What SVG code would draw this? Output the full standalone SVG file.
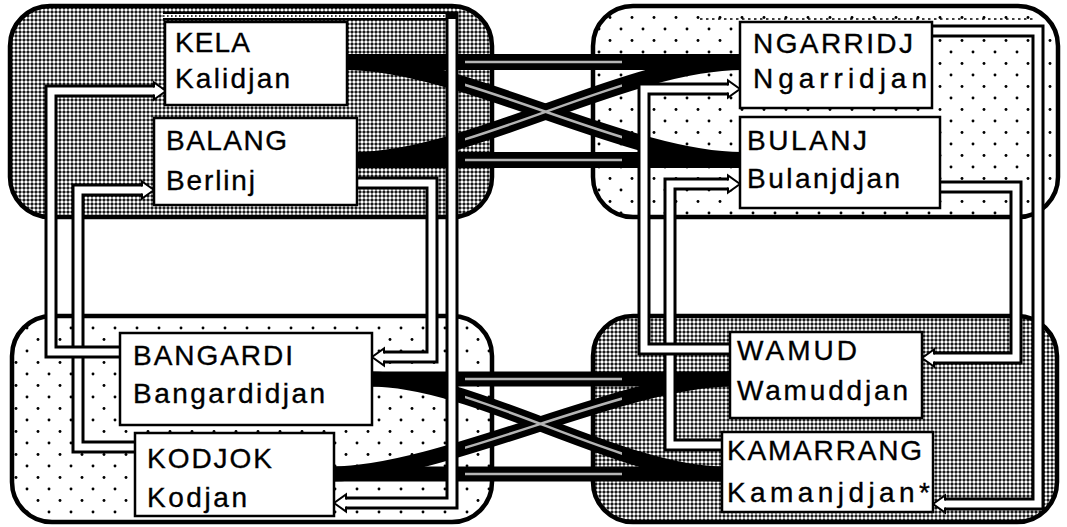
<svg xmlns="http://www.w3.org/2000/svg" width="1067" height="527" viewBox="0 0 1067 527">
<defs>
<pattern id="pd" width="4" height="4" patternUnits="userSpaceOnUse"><rect width="4" height="4" fill="#000"/><circle cx="2" cy="2" r="1.72" fill="#fff"/></pattern>
<pattern id="ps" width="22" height="23" patternUnits="userSpaceOnUse"><rect width="22" height="23" fill="#fff"/><circle cx="5" cy="6" r="1.45" fill="#000"/><circle cx="16" cy="17.5" r="1.45" fill="#000"/></pattern>
<clipPath id="mid"><rect x="465" y="0" width="157" height="527"/></clipPath>
<path id="ah" d="M-12,-3.5 V-8.5 L0,0 L-12,8.5 V3.5" fill="#fff" stroke="#000" stroke-width="2"/>
</defs>
<style>
.q{stroke:#000;stroke-width:4.5}
.dn{fill:url(#pd)}
.sp{fill:url(#ps)}
.band{fill:none;stroke:#000;stroke-width:16}
.bb{fill:none;stroke:#000;stroke-width:15}
.gc{fill:none;stroke:#b4b4b4;stroke-width:2.5}
.cb{fill:none;stroke:#000;stroke-width:13}
.cw{fill:none;stroke:#fff;stroke-width:7}
.pb{fill:none;stroke:#000;stroke-width:9}
.pw{fill:none;stroke:#fff;stroke-width:4}
.pk{fill:none;stroke:#000;stroke-width:1.6;stroke-dasharray:1.6 2.4}
.dl{fill:none;stroke:#000;stroke-width:1.4;stroke-dasharray:2.5 3.5}
.box{fill:#fff;stroke:#000;stroke-width:2.5}
.t{font-family:"Liberation Sans",Arial,sans-serif;font-size:28px;fill:#000;stroke:#000;stroke-width:0.35}
</style>
<rect width="1067" height="527" fill="#fff"/>
<g id="quadrants">
<rect class="q dn" x="10" y="6" width="482" height="211" rx="40"/>
<rect class="q sp" x="593" y="6" width="465" height="211" rx="40"/>
<rect class="q sp" x="12" y="316" width="480" height="206" rx="40"/>
<rect class="q dn" x="593" y="316" width="464" height="206" rx="40"/>
<path class="dl" d="M700,19 H1036"/>
</g>
<g id="connectors">
<g id="marriages">
<path class="band" d="M345,62 H742"/>
<path class="band" d="M355,160 H742"/>
<path class="band" d="M345,62 C460,62 627,160 742,160"/>
<path class="band" d="M355,160 C468,160 627,62 742,62"/>
<path class="bb" d="M370,379 H732"/>
<path class="bb" d="M332,474 H724"/>
<path class="bb" d="M370,379 C475,379 620,474 724,474"/>
<path class="bb" d="M332,474 C440,474 625,379 732,379"/>
<g clip-path="url(#mid)">
<path class="gc" d="M345,62 H742"/>
<path class="gc" d="M355,160 H742"/>
<path class="gc" d="M345,62 C460,62 627,160 742,160"/>
<path class="gc" d="M355,160 C468,160 627,62 742,62"/>
<path class="gc" d="M370,379 H732"/>
<path class="gc" d="M332,474 H724"/>
<path class="gc" d="M370,379 C475,379 620,474 724,474"/>
<path class="gc" d="M332,474 C440,474 625,379 732,379"/>
</g>
</g>
<g id="descent">
<path class="cb" d="M135,447 H78 V190 H142"/><path class="cw" d="M135,447 H78 V190 H142"/>
<path class="cb" d="M120,352 H51 V91 H154"/><path class="cw" d="M120,352 H51 V91 H154"/>
<path class="cb" d="M357,183 H432 V357 H384"/><path class="cw" d="M357,183 H432 V357 H384"/>
<path class="pb" d="M163,16 H458"/><path class="pw" d="M163,16 H455"/><path class="pk" d="M163,16 H452"/>
<path class="cb" d="M452,12 V503 H346"/><path class="cw" d="M452,19 V503 H346"/>
<path class="cb" d="M722,445 H670 V184 H728"/><path class="cw" d="M722,445 H670 V184 H728"/>
<path class="cb" d="M730,349 H644 V89 H728"/><path class="cw" d="M730,349 H644 V89 H728"/>
<path class="cb" d="M940,187 H1016 V358 H934"/><path class="cw" d="M940,187 H1016 V358 H934"/>
<path class="cb" d="M932,31 H1038 V504 H945"/><path class="cw" d="M932,31 H1038 V504 H945"/>
<use href="#ah" transform="translate(166,91)"/>
<use href="#ah" transform="translate(154,190)"/>
<use href="#ah" transform="translate(740,89)"/>
<use href="#ah" transform="translate(740,184)"/>
<use href="#ah" transform="translate(372,357) scale(-1,1)"/>
<use href="#ah" transform="translate(334,503) scale(-1,1)"/>
<use href="#ah" transform="translate(922,358) scale(-1,1)"/>
<use href="#ah" transform="translate(933,504) scale(-1,1)"/>
</g>
</g>
<g id="kela"><rect class="box" x="165" y="22" width="182" height="83"/><text class="t" x="175" y="52" textLength="75" lengthAdjust="spacing">KELA</text><text class="t" x="175" y="88" textLength="115" lengthAdjust="spacing">Kalidjan</text></g>
<g id="balang"><rect class="box" x="154" y="118" width="203" height="87"/><text class="t" x="166" y="150" textLength="121" lengthAdjust="spacing">BALANG</text><text class="t" x="166" y="190" textLength="89" lengthAdjust="spacing">Berlinj</text></g>
<g id="ngarridj"><rect class="box" x="740" y="22" width="192" height="86"/><text class="t" x="753" y="53" textLength="160" lengthAdjust="spacing">NGARRIDJ</text><text class="t" x="753" y="88" textLength="174" lengthAdjust="spacing">Ngarridjan</text></g>
<g id="bulanj"><rect class="box" x="740" y="117" width="200" height="91"/><text class="t" x="747" y="150" textLength="120" lengthAdjust="spacing">BULANJ</text><text class="t" x="747" y="188" textLength="153" lengthAdjust="spacing">Bulanjdjan</text></g>
<g id="bangardi"><rect class="box" x="120" y="333" width="252" height="92"/><text class="t" x="133" y="365" textLength="160" lengthAdjust="spacing">BANGARDI</text><text class="t" x="133" y="403" textLength="192" lengthAdjust="spacing">Bangardidjan</text></g>
<g id="kodjok"><rect class="box" x="135" y="433" width="199" height="83"/><text class="t" x="147" y="468" textLength="125" lengthAdjust="spacing">KODJOK</text><text class="t" x="147" y="507" textLength="100" lengthAdjust="spacing">Kodjan</text></g>
<g id="wamud"><rect class="box" x="730" y="332" width="192" height="86"/><text class="t" x="737" y="360" textLength="120" lengthAdjust="spacing">WAMUD</text><text class="t" x="737" y="400" textLength="171" lengthAdjust="spacing">Wamuddjan</text></g>
<g id="kamarrang"><rect class="box" x="722" y="432" width="211" height="80"/><text class="t" x="727" y="460" textLength="195" lengthAdjust="spacing">KAMARRANG</text><text class="t" x="727" y="502" textLength="203" lengthAdjust="spacing">Kamanjdjan*</text></g>
</svg>
